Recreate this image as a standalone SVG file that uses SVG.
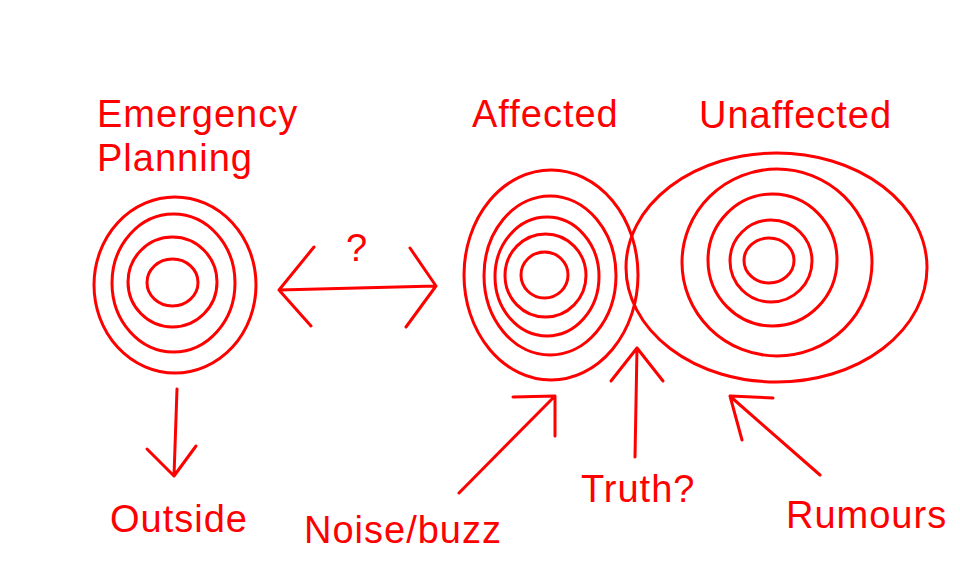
<svg xmlns="http://www.w3.org/2000/svg" width="960" height="580" viewBox="0 0 960 580">
<style>
.r{fill:none;stroke:#ff0000;stroke-width:3;stroke-linecap:round;stroke-linejoin:round}
.t{fill:#ff0000;font-family:"Liberation Sans",Arial,sans-serif;font-size:38px;letter-spacing:1px}
</style>
<rect width="960" height="580" fill="#ffffff"/>
<g id="emergency-planning">
<ellipse class="r" cx="175" cy="285" rx="81" ry="88"/>
<ellipse class="r" cx="173.5" cy="283" rx="61.5" ry="69"/>
<ellipse class="r" cx="172.5" cy="282" rx="44.5" ry="45"/>
<ellipse class="r" cx="172.5" cy="282.5" rx="25.5" ry="23.5"/>
<text class="t" x="97" y="127">Emergency</text>
<text class="t" x="97" y="171">Planning</text>
</g>
<g id="affected">
<ellipse class="r" cx="551" cy="275" rx="87" ry="105"/>
<ellipse class="r" cx="550" cy="275.5" rx="66" ry="79.5"/>
<ellipse class="r" cx="547" cy="276.5" rx="52" ry="59.5"/>
<ellipse class="r" cx="545.5" cy="275.5" rx="40.5" ry="41.5"/>
<ellipse class="r" cx="544.5" cy="275" rx="23.5" ry="23"/>
<text class="t" x="472" y="127">Affected</text>
</g>
<g id="unaffected">
<ellipse class="r" cx="776.5" cy="267.5" rx="150.5" ry="114.5"/>
<ellipse class="r" cx="777" cy="262.5" rx="95" ry="93.5"/>
<ellipse class="r" cx="772.5" cy="260" rx="64.5" ry="66"/>
<ellipse class="r" cx="771" cy="261" rx="41" ry="41"/>
<ellipse class="r" cx="769" cy="260.5" rx="25" ry="22.5"/>
<text class="t" x="699" y="128">Unaffected</text>
</g>
<g id="outside"><text class="t" x="110" y="532">Outside</text></g>
<g id="noise-buzz"><text class="t" x="304" y="543">Noise/buzz</text></g>
<g id="truth"><text class="t" x="581" y="502">Truth?</text></g>
<g id="rumours"><text class="t" x="786" y="528">Rumours</text></g>
<g id="connectors">
<path class="r" d="M279 290 L436 286 M314 247 L279 290 L311 326 M410 248 L436 286 L406 327"/>
<text class="t" x="346" y="261">?</text>
<path class="r" d="M177 389 L174 476 M147 449 L174 476 L196 446"/>
<path class="r" d="M459 493 L553 398 M513 397 L555 396 L555 436"/>
<path class="r" d="M635 457 L637 348 M611 381 L637 348 L663 381"/>
<path class="r" d="M820 475 L731 397 M773 398 L730 396 L742 440"/>
</g>
</svg>
